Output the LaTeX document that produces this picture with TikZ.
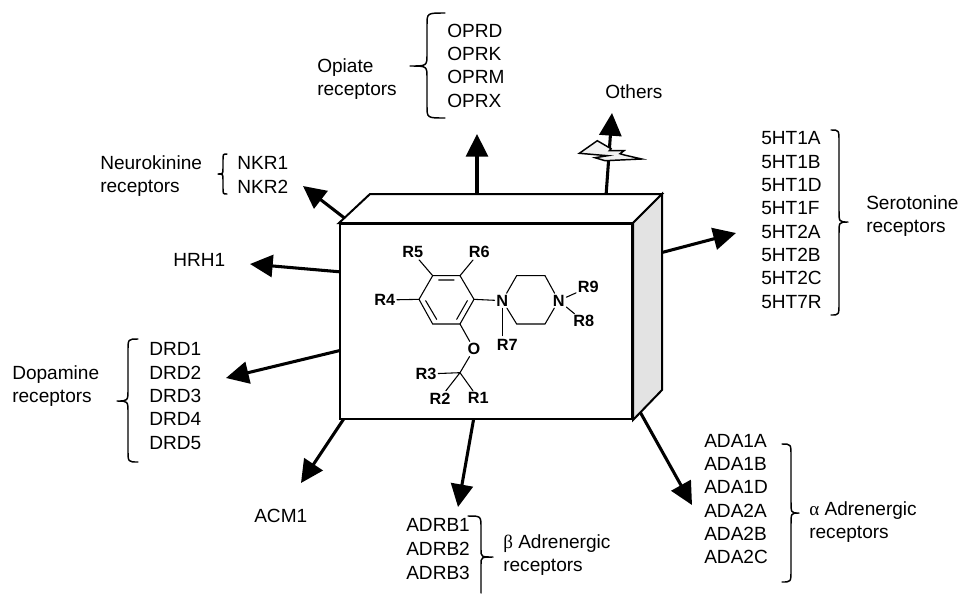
\documentclass[tikz,border=0pt]{standalone}
\usepackage{fontspec}
\setmainfont{Liberation Sans}
\newfontfamily\greekf{Liberation Serif}
\usetikzlibrary{arrows.meta}
\tikzset{
  lbl/.style={anchor=west,align=left,inner sep=0pt,font=\fontsize{14.3}{17.5}\selectfont},
  lblwide/.style={lbl,font=\fontsize{14.3}{18}\selectfont},
  arrowline/.style={line width=2.3pt,-{Triangle[length=17pt,width=16.5pt]}},
  boxline/.style={line width=1.5pt,line join=miter},
  bracel/.style={line width=1.1pt,line cap=round,line join=round},
  atom/.style={inner sep=1.2pt,font=\fontsize{12.2}{14}\selectfont\bfseries},
  bond/.style={line width=.8pt,line cap=round}
}
\newcommand{\cbrace}[7]{\draw[bracel] (#1,#4) .. controls (#2,#4) .. (#2,#4+#7) -- (#2,#5-#7) .. controls (#2,#5) .. (#3,#5) .. controls (#2,#5) .. (#2,#5+#7) -- (#2,#6-#7) .. controls (#2,#6) .. (#1,#6);}
\begin{document}
\begin{tikzpicture}[x=.75pt,y=-.75pt]
\useasboundingbox (0,0) rectangle (960,594);

% arrow anchors
\coordinate (sOpi) at (477,196); \coordinate (eOpi) at (477,134);
\coordinate (sOth) at (606,196); \coordinate (eOth) at (612,113);
\coordinate (sNeu) at (347,220); \coordinate (eNeu) at (303,186);
\coordinate (sHrh) at (342,272); \coordinate (eHrh) at (250,264);
\coordinate (sDop) at (342,350); \coordinate (eDop) at (226,378);
\coordinate (sAcm) at (345,417); \coordinate (eAcm) at (301,483);
\coordinate (sBet) at (474,417); \coordinate (eBet) at (458,507);
\coordinate (sAlp) at (639,410); \coordinate (eAlp) at (692,505);
\coordinate (sSer) at (660,253); \coordinate (eSer) at (736,233);

\foreach \a in {Opi,Oth,Neu,Hrh,Dop,Acm,Bet,Alp,Ser}
  \draw[arrowline] (s\a) -- (e\a);

% lightning on the Others arrow
\draw[line width=1.1pt,fill=black!5,line join=miter]
  (579.3,153.3) -- (597.3,140.7) -- (611,148.7) -- (609.3,150.7) -- (624,150.7) -- (620,153.7)
  -- (624.3,155) -- (641.7,159) -- (605,160.7) -- (595,157.7) -- (607.7,155.7) -- cycle;

% the box
\node[draw,boxline,fill=white,minimum width=219pt,minimum height=146.25pt,inner sep=0pt] (front) at (486,321.5) {};
\coordinate (tl) at (370,194);
\coordinate (tr) at (662,194);
\coordinate (br) at (662,390);
\draw[boxline,fill=white] (front.north west) -- (tl) -- (tr) -- (front.north east) -- cycle;
\draw[boxline,fill=black!11] (front.north east) -- (tr) -- (br) -- (front.south east) -- cycle;

% molecule
\begin{scope}[shift={(330,180)},x=.25pt,y=-.25pt]
  \coordinate (a1) at (308,287); \coordinate (a2) at (390,287); \coordinate (a3) at (432,358);
  \coordinate (a4) at (390,432); \coordinate (a5) at (308,432); \coordinate (a6) at (267,358);
  \coordinate (p1) at (560,287); \coordinate (p2) at (645,287);
  \coordinate (p3) at (645,432); \coordinate (p4) at (560,432);
  \coordinate (cc) at (390,578);
  \coordinate (d1) at (326,300); \coordinate (d2) at (372,300);
  \coordinate (d3) at (287,362); \coordinate (d4) at (320,418);
  \coordinate (d5) at (412,362); \coordinate (d6) at (380,418);
  \node[atom] (R5) at (248,217) {R5};
  \node[atom] (R6) at (448,217) {R6};
  \node[atom] (R4) at (164,360) {R4};
  \node[atom] (N1) at (517,362) {N};
  \node[atom] (N2) at (686,362) {N};
  \node[atom] (R9) at (775,322) {R9};
  \node[atom] (R8) at (761,424) {R8};
  \node[atom] (R7) at (532,495) {R7};
  \node[atom] (O)  at (432,507) {O};
  \node[atom] (R3) at (288,582) {R3};
  \node[atom] (R2) at (330,655) {R2};
  \node[atom] (R1) at (445,655) {R1};
  \draw[bond] (a1) -- (a2) -- (a3) -- (a4) -- (a5) -- (a6) -- cycle;
  \draw[bond] (d1) -- (d2) (d3) -- (d4) (d5) -- (d6);
  \draw[bond] (R5) -- (a1) (R6) -- (a2) (R4) -- (a6) (a3) -- (N1);
  \draw[bond] (N1) -- (p1) -- (p2) -- (N2) -- (p3) -- (p4) -- (N1);
  \draw[bond] (518,385) -- (518,467);
  \draw[bond] (N2) -- (R9) (N2) -- (R8);
  \draw[bond] (a4) -- (O) (O) -- (cc) (R3) -- (cc) (cc) -- (R2) (cc) -- (R1);
\end{scope}

% labels
\node[lbl] (opil) at (447,65.5) {OPRD\\OPRK\\OPRM\\OPRX};
\node[lbl] (opit) at (317,79) {Opiate\\receptors};
\node[lbl,anchor=west] (oth) at (605,92) {Others};
\node[lbl] (neul) at (237,175) {NKR1\\NKR2};
\node[lbl] (neut) at (100,176) {Neurokinine\\receptors};
\node[lbl] (hrh) at (173,260) {HRH1};
\node[lbl] (dopl) at (149,396) {DRD1\\DRD2\\DRD3\\DRD4\\DRD5};
\node[lbl] (dopt) at (12,386) {Dopamine\\receptors};
\node[lbl] (acm) at (254,516) {ACM1};
\node[lblwide] (betl) at (406,549) {ADRB1\\ADRB2\\ADRB3};
\node[lbl] (bett) at (503,555) {{\greekf β} Adrenergic\\receptors};
\node[lbl] (alpl) at (704,499) {ADA1A\\ADA1B\\ADA1D\\ADA2A\\ADA2B\\ADA2C};
\node[lbl] (alpt) at (809,522) {{\greekf α} Adrenergic\\receptors};
\node[lbl] (serl) at (761,220) {5HT1A\\5HT1B\\5HT1D\\5HT1F\\5HT2A\\5HT2B\\5HT2C\\5HT7R};
\node[lbl] (sert) at (866,216) {Serotonine\\receptors};

% braces
\cbrace{445}{427}{410}{13}{66}{118}{12}
\cbrace{227}{223}{218}{154}{174}{194}{6}
\cbrace{138}{128}{117}{339}{401}{462}{12}
\cbrace{831}{839}{848}{130}{222}{315}{12}
\cbrace{782}{791}{799}{444}{513}{582}{12}
\draw[bracel] (468,516) .. controls (481,516) .. (481,528) -- (481,549) .. controls (481,557) .. (493,557) .. controls (481,557) .. (481,565) -- (481,593);
\end{tikzpicture}
\end{document}
